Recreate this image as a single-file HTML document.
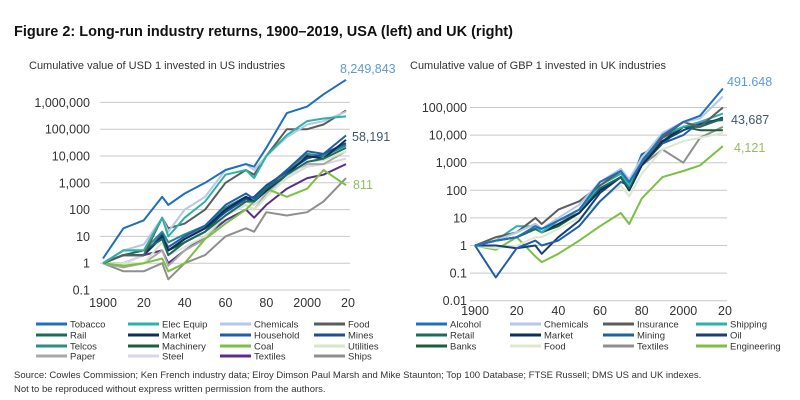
<!DOCTYPE html>
<html><head><meta charset="utf-8"><style>
body{margin:0;background:#fff;font-family:"Liberation Sans",sans-serif;}
#wrap{position:relative;width:800px;height:400px;overflow:hidden;}
text{font-family:"Liberation Sans",sans-serif;}
</style></head><body>
<div id="wrap">
<svg id="svg" width="800" height="400" xmlns="http://www.w3.org/2000/svg">
<text x="14" y="36" font-size="14.5" font-weight="bold" fill="#111">Figure 2: Long-run industry returns, 1900–2019, USA (left) and UK (right)</text>
<text x="29" y="69" font-size="11" fill="#333">Cumulative value of USD 1 invested in US industries</text>
<text x="410" y="69" font-size="11" fill="#333">Cumulative value of GBP 1 invested in UK industries</text>
<g id="left"></g>
<g id="right"></g>
<g id="legend"></g>
<text x="14" y="378" font-size="9.5" fill="#333">Source: Cowles Commission; Ken French industry data; Elroy Dimson Paul Marsh and Mike Staunton; Top 100 Database; FTSE Russell; DMS US and UK indexes.</text>
<text x="14" y="392" font-size="9.5" fill="#333">Not to be reproduced without express written permission from the authors.</text>
</svg>
</div>
<script>
const years=[1900,1910,1920,1929,1932,1940,1950,1960,1970,1974,1980,1990,2000,2008,2019];
const xTickLabels=["1900","20","40","60","80","2000","20"];
const xTickYears=[1900,1920,1940,1960,1980,2000,2020];
const usTickLabels=["0.1","1","10","100","1,000","10,000","100,000","1,000,000"];
const ukTickLabels=["0.01","0.1","1","10","100","1,000","10,000","100,000"];
const usNames=["Tobacco","Elec Equip","Chemicals","Food","Rail","Market","Household","Mines","Telcos","Machinery","Coal","Utilities","Paper","Steel","Textiles","Ships"];
const usColors=["#1f6fbf","#2ab3a6","#b7c7e6","#5c5c5c","#1e6b5c","#0f2f57","#1f5fa8","#1a4f9c","#2a8c8c","#1b5e3b","#7bc043","#d6e6c8","#a8a8a8","#d9d6e8","#5a2d8c","#8f8f8f"];
const usTobacco=[1.5,20,40,300,150,400,1000,3000,5000,4000,20000,400000,700000,2000000,7000000];
const usElecEquip=[1,3,3,50,10,50,200,2000,3000,1500,10000,60000,200000,250000,300000];
const usChemicals=[1,3,5,50,15,100,300,3000,5000,3000,10000,50000,150000,200000,450000];
const usFood=[1,2,2,50,20,30,100,1000,3000,2000,10000,100000,100000,150000,500000];
const usRail=[1,2,3,8,2,6,15,60,200,200,600,2000,6000,8000,20000];
const usMarket=[1,2,2,10,3,8,20,100,300,200,500,2000,10000,8000,40000];
const usHousehold=[1,2,2,10,4,10,25,150,400,250,600,3000,15000,12000,58000];
const usMines=[1,2,2,12,3,8,20,80,250,300,800,2500,8000,12000,30000];
const usTelcos=[1,3,3,15,6,12,25,120,300,200,700,3000,12000,10000,25000];
const usMachinery=[1,2,2,12,3,6,15,90,250,200,800,2500,9000,10000,25000];
const usCoal=[1,0.8,1,1.5,0.5,1,8,30,100,200,600,300,600,3000,811];
const usUtilities=[1,1,1,6,2,4,10,60,150,100,300,1500,6000,7000,15000];
const usPaper=[1,0.7,1,3,0.8,3,8,60,150,100,400,2000,5000,5000,15000];
const usSteel=[1,1,2,8,2,6,20,100,200,150,400,1500,4000,5000,8000];
const usTextiles=[1,1,2,3,1,3,10,40,100,50,150,600,1500,2000,5000];
const usShips=[1,0.5,0.5,1,0.25,1,2,10,20,15,80,60,80,200,1500];
const usSeries=[usTobacco,usElecEquip,usChemicals,usFood,usRail,usMarket,usHousehold,usMines,usTelcos,usMachinery,usCoal,usUtilities,usPaper,usSteel,usTextiles,usShips];
const ukNames=["Alcohol","Chemicals","Insurance","Shipping","Retail","Market","Mining","Oil","Banks","Food","Textiles","Engineering"];
const ukColors=["#1f6fbf","#b7c7e6","#5c5c5c","#2ab3a6","#1e6b5c","#0f2f57","#1f5fa8","#173f7a","#1b5e3b","#dde8cc","#8f8f8f","#7bc043"];
const ukAlcohol=[1,1.5,2,5,4,8,20,200,500,200,1000,10000,30000,50000,490000];
const ukChemicals=[1,1.5,3,6,4,10,30,200,600,250,1500,12000,30000,40000,250000];
const ukInsurance=[1,2,3,10,6,20,40,150,500,200,1000,8000,30000,20000,100000];
const ukShipping=[1,1.5,5,5,3,8,20,150,400,150,1500,10000,20000,30000,60000];
const ukRetail=[1,1.5,2,4,3,8,20,120,300,120,1200,8000,20000,20000,40000];
const ukMarket=[1,1.5,2,4,3,6,15,100,300,100,800,6000,20000,20000,43687];
const ukMining=[1,0.07,0.8,1.5,1,1.5,5,40,200,150,2000,5000,10000,30000,35000];
const ukOil=[1,1,0.8,1,0.5,2,8,80,300,150,1500,6000,15000,25000,40000];
const ukBanks=[1,1.5,2,4,3,5,15,100,300,100,800,5000,20000,15000,15000];
const ukFood=[1,0.8,1,2,2,4,10,40,150,60,400,3000,6000,8000,12000];
const ukTextiles=[1,1.5,3,6,4,8,15,100,300,100,800,3000,1000,8000,20000];
const ukEngineering=[1,0.7,2,0.4,0.25,0.5,1.5,5,15,6,50,300,500,800,4000];
const ukSeries=[ukAlcohol,ukChemicals,ukInsurance,ukShipping,ukRetail,ukMarket,ukMining,ukOil,ukBanks,ukFood,ukTextiles,ukEngineering];

const NS="http://www.w3.org/2000/svg";
function mk(tag,attrs,parent){const e=document.createElementNS(NS,tag);for(const k in attrs)e.setAttribute(k,attrs[k]);parent.appendChild(e);return e;}

function drawChart(g,cfg,names,colors,series,tickLabels,prefix){
  const xs=y=>cfg.x0+(y-1900)/120*(cfg.x1-cfg.x0);
  const ys=v=>cfg.yBase-(Math.log10(v)-cfg.minExp)*cfg.dec;
  tickLabels.forEach((lab,i)=>{
    const v=Math.pow(10,cfg.minExp+i);const y=ys(v);
    const l=mk('line',{x1:cfg.gx0,x2:cfg.x1+2,y1:y,y2:y,stroke:'#c8c8c8','stroke-width':1},g);
    
    
    const t=mk('text',{x:cfg.lx,y:y+4.5,'text-anchor':'end','font-size':12.5,fill:'#333'},g);
    t.textContent=lab;
    
    
  });
  xTickYears.forEach((yr,i)=>{
    const t=mk('text',{x:xs(yr),y:cfg.xy,'text-anchor':'middle','font-size':12.5,fill:'#333'},g);
    t.textContent=xTickLabels[i];
    
    
  });
  for(let s=series.length-1;s>=0;s--){
    const d=series[s].map((v,i)=>(i?'L':'M')+xs(years[i]).toFixed(1)+','+ys(v).toFixed(1)).join(' ');
    const p=mk('path',{d:d,fill:'none',stroke:colors[s],'stroke-width':2,'stroke-linejoin':'round'},g);
    
    
  }
}
drawChart(document.getElementById('left'),{x0:103,x1:348,gx0:100,yBase:290,minExp:-1,dec:26.8,lx:90,xy:307},usNames,usColors,usSeries,usTickLabels,'us');
drawChart(document.getElementById('right'),{x0:475,x1:725,gx0:470,yBase:300.7,minExp:-2,dec:27.6,lx:467,xy:315},ukNames,ukColors,ukSeries,ukTickLabels,'uk');

const endLabels=[["8,249,843",340,73,"#5b9bd5"],["58,191",352,141,"#3f5a6e"],["811",353,189,"#8dc060"],["491.648",727,86,"#5b9bd5"],["43,687",731,124,"#3f5a6e"],["4,121",734,152,"#8dc060"]];
const svg=document.getElementById('svg');
endLabels.forEach(e=>{
  const t=mk('text',{x:e[1],y:e[2],'font-size':12.5,fill:e[3]},svg);
  t.textContent=e[0];
  
  
});

const lg=document.getElementById('legend');
const usLegOrder=[["Tobacco","Elec Equip","Chemicals","Food"],["Rail","Market","Household","Mines"],["Telcos","Machinery","Coal","Utilities"],["Paper","Steel","Textiles","Ships"]];
const ukLegOrder=[["Alcohol","Chemicals","Insurance","Shipping"],["Retail","Market","Mining","Oil"],["Banks","Food","Textiles","Engineering"]];
const usCols=[36,128,220,314],ukCols=[416,510,603,696],rowY=[324,335,346,356];
function legend(order,cols,names,colors,prefix){
  order.forEach((row,r)=>row.forEach((n,c)=>{
    const col=colors[names.indexOf(n)];
    const l=mk('line',{x1:cols[c],x2:cols[c]+31,y1:rowY[r],y2:rowY[r],stroke:col,'stroke-width':3},lg);
    
    
    const t=mk('text',{x:cols[c]+34,y:rowY[r]+3.5,'font-size':9.5,fill:'#333'},lg);
    t.textContent=n;
    
    
  }));
}
legend(usLegOrder,usCols,usNames,usColors,'us');
legend(ukLegOrder,ukCols,ukNames,ukColors,'uk');
</script>
</body></html>
